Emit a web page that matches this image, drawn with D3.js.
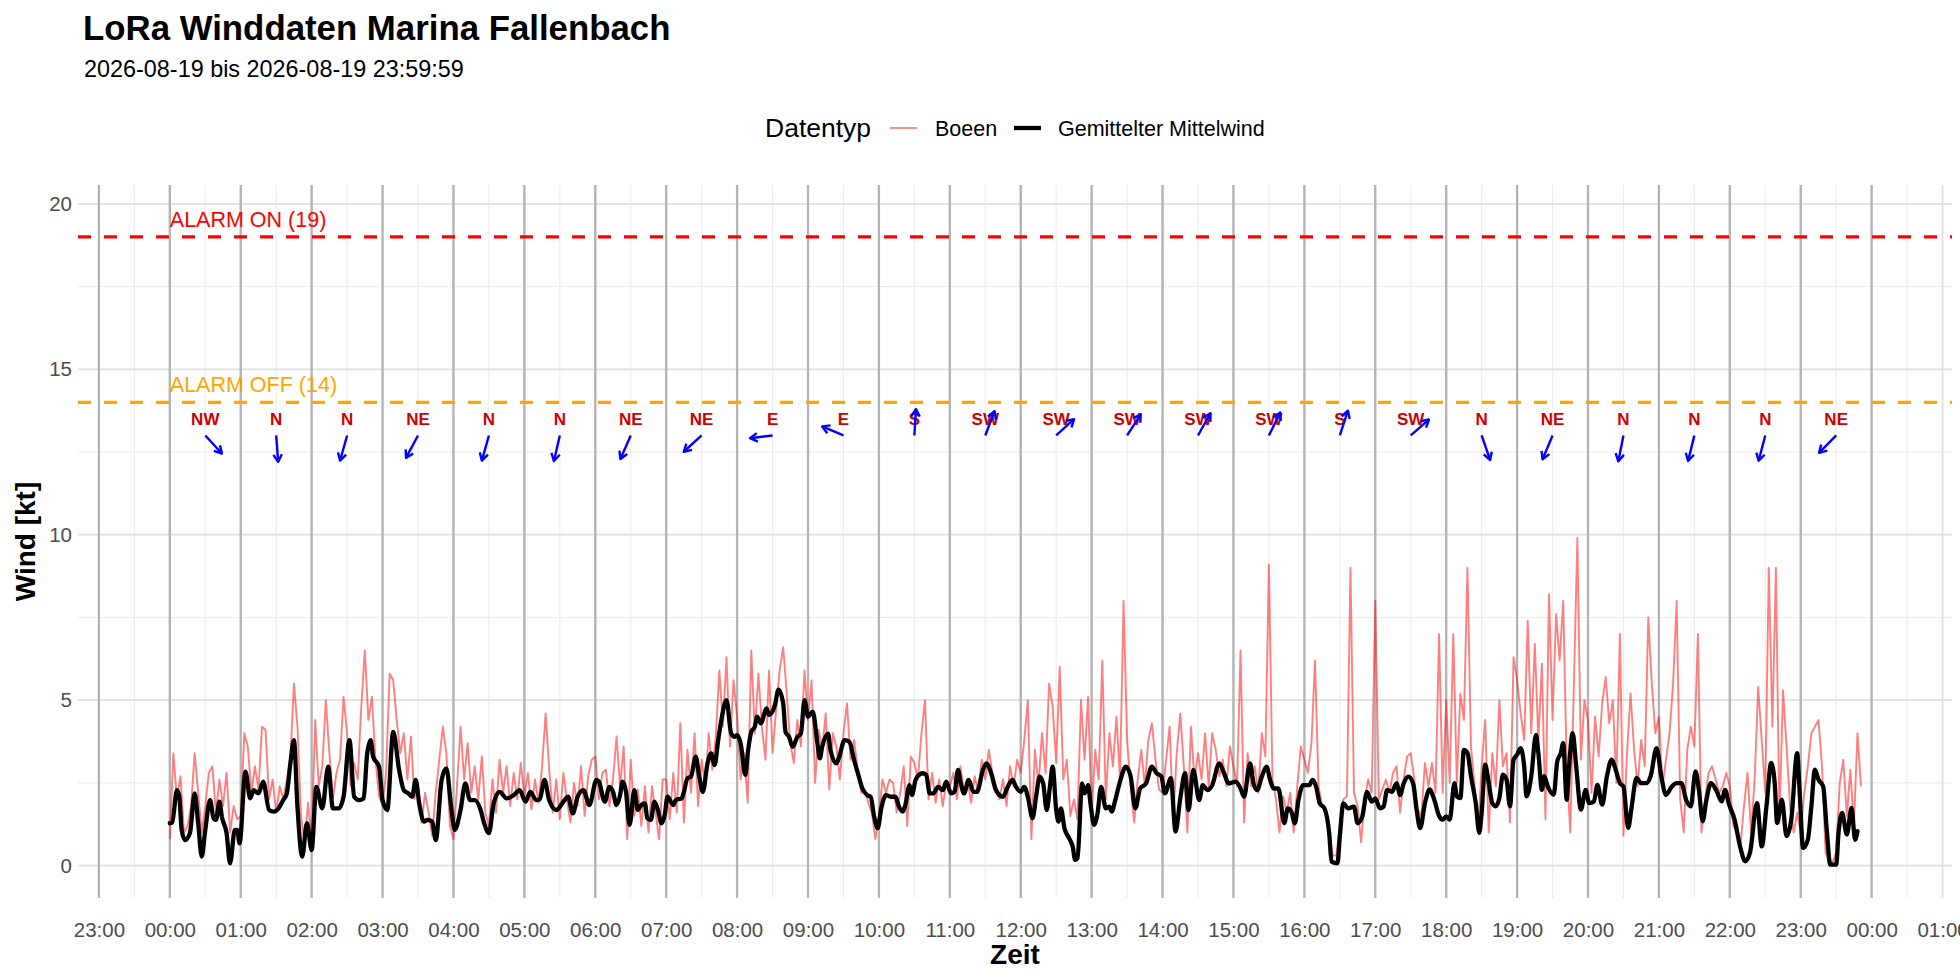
<!DOCTYPE html>
<html lang="de">
<head>
  <meta charset="UTF-8">
  <title>LoRa Winddaten Marina Fallenbach</title>
  <style>
    html, body {
      margin: 0;
      background: #fff;
    }
    svg {
      display: block;
      font-family: "Liberation Sans", Arial, sans-serif;
    }
  </style>
</head>
<body>
  <script src="https://d3js.org/d3.v7.min.js"></script>
  <script>
    // Boeen: one value every 3 minutes, one row per hour (00:00 .. 23:51)
    const gustStepMin = 3;
    const gusts = [
      0.8, 3.4, 2.0, 2.7, 1.0, 1.2, 1.8, 3.4, 2.2, 1.0, 1.8, 2.8, 3.0, 1.6, 2.6, 1.8, 2.8, 1.0, 1.8, 1.4,
      1.5, 4.0, 3.6, 2.2, 3.0, 2.3, 4.2, 4.1, 2.0, 2.6, 1.6, 2.4, 2.0, 2.6, 3.2, 5.5, 4.2, 1.5, 0.7, 1.9,
      0.7, 4.4, 2.4, 3.0, 5.0, 3.4, 2.0, 2.8, 3.2, 5.1, 4.0, 2.4, 3.1, 2.6, 4.8, 6.5, 4.4, 5.1, 3.2, 2.1,
      1.8, 2.8, 5.8, 5.6, 4.4, 3.4, 4.0, 2.6, 3.9, 2.0, 2.5, 1.3, 2.2, 1.6, 0.9, 2.2, 3.2, 4.2, 3.4, 1.2,
      0.8, 2.4, 4.2, 2.6, 3.7, 2.2, 3.0, 2.0, 3.3, 1.6, 1.2, 2.6, 1.6, 3.2, 2.2, 3.0, 1.8, 2.8, 2.0, 3.1,
      2.1, 2.8, 1.7, 2.6, 1.9, 3.0, 4.6, 2.9, 1.6, 2.6, 1.4, 2.8, 2.0, 1.3, 2.5, 1.8, 3.0, 1.5, 2.7, 3.2,
      3.3, 2.0, 2.8, 2.9, 1.8, 2.6, 3.9, 2.4, 3.6, 0.8, 3.2, 1.5, 2.3, 1.2, 2.4, 1.0, 2.4, 1.6, 0.8, 2.6,
      2.6, 1.4, 2.8, 1.6, 4.3, 1.3, 3.5, 2.2, 4.0, 1.8, 3.2, 2.4, 4.0, 2.9, 3.9, 5.9, 4.2, 6.3, 3.6, 5.6,
      4.5, 2.6, 3.4, 1.9, 6.5, 4.0, 5.8, 4.2, 3.2, 5.9, 3.4, 4.7, 5.9, 6.6, 5.2, 3.7, 3.1, 4.4, 3.6, 5.9,
      4.4, 5.6, 2.5, 4.1, 3.5, 4.6, 2.3, 4.0, 3.6, 2.6, 4.0, 4.9, 3.2, 3.8, 2.9, 2.2, 2.3, 1.9, 1.6, 0.8,
      1.5, 2.6, 2.2, 2.6, 2.5, 1.6, 2.2, 3.0, 1.2, 3.3, 3.1, 2.6, 4.0, 5.0, 2.0, 2.8, 1.9, 2.6, 1.8, 2.5,
      2.4, 2.8, 2.0, 3.0, 2.2, 2.6, 1.9, 2.7, 2.2, 3.2, 2.6, 3.5, 2.8, 2.4, 2.0, 2.6, 1.8, 3.0, 2.4, 3.2,
      2.8, 3.8, 5.0, 0.8, 3.5, 2.4, 4.0, 2.8, 5.5, 4.8, 3.1, 6.0, 2.6, 3.2, 1.5, 2.0, 1.4, 5.0, 3.2, 5.1,
      1.5, 3.5, 2.6, 6.2, 2.0, 4.0, 3.0, 4.5, 2.6, 8.0, 3.8, 2.4, 1.3, 2.6, 3.5, 2.4, 3.8, 4.3, 3.2, 2.3,
      2.2, 3.2, 4.2, 1.3, 3.4, 4.6, 3.0, 1.0, 4.2, 2.6, 3.4, 2.6, 4.0, 2.4, 4.0, 3.5, 2.7, 3.2, 2.4, 3.6,
      3.0, 2.4, 6.5, 1.3, 3.4, 2.4, 3.0, 2.2, 4.0, 3.3, 9.1, 2.6, 2.0, 1.0, 2.1, 1.6, 2.2, 1.0, 2.4, 3.6,
      3.2, 2.8, 3.7, 6.2, 2.4, 1.8, 1.6, 1.0, 0.3, 0.3, 1.2, 2.0, 2.1, 9.0, 2.2, 1.8, 0.7, 2.0, 2.6, 2.2,
      8.0, 2.0, 2.3, 2.6, 2.2, 2.8, 3.0, 1.6, 2.6, 3.3, 3.4, 2.6, 1.7, 1.5, 3.1, 2.4, 3.1, 2.2, 7.0, 2.2,
      5.0, 2.5, 7.0, 2.5, 5.2, 4.4, 9.0, 3.6, 2.4, 1.0, 3.0, 4.4, 1.0, 3.4, 2.4, 5.0, 3.0, 3.4, 1.3, 6.3,
      5.6, 4.6, 3.8, 7.4, 4.0, 6.7, 3.8, 6.1, 1.4, 8.2, 4.4, 7.6, 6.2, 8.0, 3.0, 1.0, 5.4, 9.9, 3.2, 5.0,
      4.4, 2.2, 4.5, 3.3, 4.9, 5.7, 4.3, 5.0, 2.5, 7.0, 0.9, 3.4, 5.2, 3.5, 2.4, 3.8, 3.0, 7.5, 5.5, 4.0,
      4.5, 2.4, 3.2, 4.0, 5.5, 8.0, 2.0, 1.0, 3.5, 4.2, 3.6, 7.0, 1.0, 2.0, 2.8, 3.0, 2.6, 2.2, 2.4, 2.8,
      2.4, 1.2, 1.0, 0.6, 1.8, 2.8, 1.0, 2.6, 5.4, 3.8, 2.2, 9.0, 4.2, 9.0, 1.3, 5.3, 3.6, 1.8, 1.0, 1.6,
      1.0, 2.2, 3.0, 4.0, 4.2, 4.4, 3.0, 0.4, 0.1, 0.1, 0.4, 2.5, 3.2, 1.5, 2.9, 1.2, 4.0, 2.4
    ];

    // Gemittelter Mittelwind: [minute of day, kt]
    const meanWind = [
      [0,1.28],[2,1.3],[6,2.28],[8,2.1],[10,1.08],[13,0.77],[17,0.98],[21,2.18],[24,1.28],[27,0.27],[30,1.08],
      [34,1.98],[37,1.43],[39,1.38],[42,1.93],[44,1.48],[48,0.98],[51,0.07],[55,1.08],[57,1.08],[59,0.67],
      [64,2.84],[68,2.03],[71,2.28],[75,2.18],[79,2.54],[84,1.68],[88,1.63],[92,1.73],[96,1.98],[99,2.18],
      [102,3.09],[105,3.79],[108,1.78],[112,0.27],[116,1.28],
      [120,0.47],[124,2.38],[129,1.73],[134,2.99],[138,1.73],[143,1.73],[147,2.08],[152,3.79],[156,2.08],
      [160,1.98],[164,2.03],[167,3.39],[170,3.79],[172,3.29],[177,2.99],
      [180,1.98],[184,1.68],[189,4.04],[194,2.89],[198,2.28],[202,2.18],[205,2.08],[208,2.59],[211,1.88],
      [215,1.33],[218,1.38],[222,1.33],[225,0.77],[230,2.59],[234,2.94],[238,1.78],
      [241,1.08],[246,1.68],[250,2.48],[254,1.98],[258,1.98],[263,1.68],[266,1.28],[270,0.98],[274,1.88],
      [279,2.23],[285,2.03],[291,2.13],[296,2.28],
      [301,1.93],[305,2.23],[310,1.98],[313,2.0],[317,2.59],[321,1.98],[327,1.68],[333,1.93],[337,2.08],
      [341,1.58],[345,2.08],[350,2.28],[355,1.83],
      [361,2.59],[363,2.54],[368,1.93],[372,2.38],[375,2.23],[378,1.83],[381,2.13],[383,2.54],[386,2.23],
      [389,1.23],[393,2.28],[396,1.68],[399,1.83],[402,1.88],[404,1.43],[407,1.38],[410,1.93],[413,1.68],
      [416,1.28],[419,1.58],
      [421,2.08],[426,1.83],[428,1.98],[433,2.03],[435,2.23],[438,2.64],[441,2.69],[445,3.29],[448,2.69],
      [451,2.23],[455,3.09],[458,3.39],[461,3.04],[464,3.79],[466,4.25],[471,5.0],[475,3.99],[478,3.89],
      [480,3.94],[483,3.69],[487,2.74],[489,3.39],[492,4.04],[495,4.2],[497,4.5],[500,4.3],[505,4.75],
      [507,4.55],[512,4.85],[515,5.32],[519,4.9],[521,4.04],[524,3.89],[527,3.59],[531,3.89],[534,3.99],[537,5.0],
      [540,4.5],[544,4.65],[548,3.69],[550,3.24],[552,3.59],[557,3.99],[559,3.49],[564,3.09],[566,3.24],
      [571,3.79],[575,3.74],[579,3.19],[583,2.69],[586,2.33],[590,2.13],[593,2.08],[596,1.48],[599,1.13],
      [602,1.73],[606,2.13],[610,2.08],[614,2.08],[617,1.78],[620,1.63],[622,1.78],[626,2.43],[628,2.13],
      [631,2.59],[634,2.74],[637,2.79],[640,2.74],[643,2.18],[646,2.18],[650,2.38],[654,2.28],[657,2.54],
      [661,2.18],[664,2.23],[667,2.89],[669,2.54],[672,2.18],[676,2.59],[680,2.23],[683,2.23],[688,2.89],
      [691,3.09],[695,2.79],[699,2.28],[705,2.08],[709,2.38],[713,2.59],[716,2.38],
      [720,2.23],[723,2.38],[726,2.08],[730,1.43],[733,2.08],[736,2.69],[739,2.48],[742,1.68],[745,2.48],
      [747,2.99],[750,1.68],[752,1.33],[754,1.73],[757,1.13],[761,0.82],[764,0.57],[766,0.17],[768,0.22],
      [772,2.48],[774,2.18],[777,2.43],[779,1.88],
      [782,1.23],[785,1.58],[788,2.38],[792,1.73],[795,1.78],[797,1.63],[800,1.98],[804,2.54],[809,2.99],
      [813,2.69],[817,1.73],[821,2.33],[826,2.48],[831,2.99],[835,2.79],[839,2.69],
      [842,2.18],[847,2.64],[851,1.03],[855,2.03],[859,2.79],[862,1.68],[866,2.89],[871,1.98],[874,2.43],
      [878,2.28],[882,2.43],[888,3.09],[892,2.79],[896,2.48],
      [902,2.54],[906,2.33],[909,2.08],[914,3.09],[917,2.48],[920,2.28],[924,2.69],[928,2.99],[931,2.59],
      [934,2.33],[938,2.33],[943,1.28],[946,1.73],[949,1.63],[952,1.28],[955,1.98],[959,2.43],
      [964,2.43],[967,2.59],[970,2.38],[973,1.88],[977,1.73],[981,0.98],[983,0.12],[988,0.07],[990,0.88],
      [993,1.88],[997,1.73],[1002,1.78],[1005,1.28],[1009,1.48],[1013,2.23],[1017,1.93],
      [1020,2.03],[1024,1.73],[1027,1.78],[1030,2.28],[1034,2.23],[1038,2.48],[1041,2.13],[1044,2.48],
      [1048,2.69],[1052,2.48],[1055,1.68],[1058,1.13],[1062,1.88],[1066,2.3],[1070,1.98],[1074,1.5],[1077,1.39],
      [1080,1.49],[1083,1.39],[1087,2.49],[1089,2.09],[1092,2.04],[1095,3.5],[1098,3.4],[1101,2.7],[1105,1.89],
      [1108,0.99],[1110,1.59],[1113,3.05],[1116,2.49],[1119,1.89],[1122,1.79],[1125,2.04],[1128,2.75],
      [1131,2.6],[1134,1.79],[1137,3.2],
      [1140,3.35],[1143,3.55],[1146,3.0],[1148,2.09],[1152,2.7],[1156,3.95],[1158,3.4],[1161,2.29],[1163,2.7],
      [1166,2.39],[1171,2.14],[1174,3.15],[1177,3.4],[1179,3.7],[1182,1.99],[1184,3.0],[1187,4.0],[1190,3.0],
      [1194,1.69],[1198,2.29],
      [1201,1.89],[1205,1.94],[1208,2.44],[1212,1.84],[1216,2.7],[1220,3.2],[1223,2.95],[1227,2.49],[1230,2.39],
      [1234,1.14],[1237,1.79],[1241,2.65],[1245,2.49],[1249,2.49],[1253,2.7],[1258,3.55],
      [1262,2.7],[1266,2.14],[1271,2.39],[1275,2.49],[1279,2.49],[1283,1.99],[1287,1.79],[1291,2.85],[1294,2.24],
      [1297,1.34],[1300,1.94],[1304,2.49],[1309,2.24],[1313,1.94],[1316,2.29],[1319,1.89],
      [1324,1.39],[1329,0.53],[1333,0.13],[1337,0.38],[1343,1.89],[1347,0.58],[1351,1.79],[1355,3.1],[1358,2.49],
      [1360,1.29],[1364,1.99],[1368,0.89],[1372,1.39],[1377,3.4],[1379,2.29],
      [1382,0.53],[1386,0.78],[1389,1.79],[1392,2.9],[1395,2.6],[1399,2.39],[1402,1.09],[1405,0.03],[1410,0.03],
      [1412,0.99],[1415,1.59],[1419,0.94],[1423,1.74],[1426,0.78],[1428,1.04]
    ];

    // Windrichtung pro Stunde (angezeigt bei hh:30)
    const dirHours = [0.5, 1.5, 2.5, 3.5, 4.5, 5.5, 6.5, 7.5, 8.5, 9.5, 10.5, 11.5,
                      12.5, 13.5, 14.5, 15.5, 16.5, 17.5, 18.5, 19.5, 20.5, 21.5, 22.5, 23.5];
    const dirLabels = ["NW", "N", "N", "NE", "N", "N", "NE", "NE", "E", "E", "S", "SW",
                       "SW", "SW", "SW", "SW", "S", "SW", "N", "NE", "N", "N", "N", "NE"];
    const dirDegrees = [313, 355, 18, 32, 18, 15, 27, 52, 84, 110, 184, 204,
                        232, 217, 213, 210, 201, 233, 338, 26, 13, 16, 17, 49];

    const alarmOn = 19;
    const alarmOff = 14;
    const yTicks = [0, 5, 10, 15, 20];
    const yMinor = [2.5, 7.5, 12.5, 17.5];
    const seriesNames = ["Boeen", "Gemittelter Mittelwind"];

    const W = 1960, H = 980;
    const panel = { left: 78, right: 1952, top: 185, bottom: 898 };

    const day0 = new Date(2026, 7, 19, 0, 0, 0);
    const atMin = m => new Date(day0.getTime() + m * 60000);

    const x = d3.scaleTime()
      .domain([atMin(-77.7), atMin(1508)])
      .range([panel.left, panel.right]);
    const y = d3.scaleLinear()
      .domain([-0.98, 20.57])
      .range([panel.bottom, panel.top]);

    const svg = d3.select("body")
      .append("svg")
      .attr("width", W)
      .attr("height", H);

    svg.append("rect").attr("width", W).attr("height", H).attr("fill", "#fff");

    // Grid
    const grid = svg.append("g");
    const halfHours = x.ticks(d3.timeMinute.every(30)).filter(d => d.getMinutes() === 30);
    const hours = x.ticks(d3.timeHour.every(1));

    grid.selectAll(".vminor").data(halfHours).join("line")
      .attr("x1", d => x(d)).attr("x2", d => x(d))
      .attr("y1", panel.top).attr("y2", panel.bottom)
      .attr("stroke", "#ededed").attr("stroke-width", 1.1);
    grid.selectAll(".hminor").data(yMinor).join("line")
      .attr("x1", panel.left).attr("x2", panel.right)
      .attr("y1", d => y(d)).attr("y2", d => y(d))
      .attr("stroke", "#ededed").attr("stroke-width", 1.1);
    grid.selectAll(".vmajor").data(hours).join("line")
      .attr("x1", d => x(d)).attr("x2", d => x(d))
      .attr("y1", panel.top).attr("y2", panel.bottom)
      .attr("stroke", "#e0e0e0").attr("stroke-width", 1.8);
    grid.selectAll(".hmajor").data(yTicks).join("line")
      .attr("x1", panel.left).attr("x2", panel.right)
      .attr("y1", d => y(d)).attr("y2", d => y(d))
      .attr("stroke", "#e0e0e0").attr("stroke-width", 1.8);

    // Stundenlinien
    const hourMarks = hours.filter(d => d <= atMin(1440));
    svg.append("g").selectAll("line").data(hourMarks).join("line")
      .attr("x1", d => x(d)).attr("x2", d => x(d))
      .attr("y1", panel.top).attr("y2", panel.bottom)
      .attr("stroke", "#b3b3b3").attr("stroke-width", 2.3);

    // Alarm thresholds
    const thresholds = [
      { v: alarmOn, color: "#ff0000", label: "ALARM ON (" + alarmOn + ")" },
      { v: alarmOff, color: "#ffa500", label: "ALARM OFF (" + alarmOff + ")" }
    ];
    thresholds.forEach(t => {
      svg.append("line")
        .attr("x1", panel.left).attr("x2", panel.right)
        .attr("y1", y(t.v)).attr("y2", y(t.v))
        .attr("stroke", t.color)
        .attr("stroke-width", 3.2)
        .attr("stroke-dasharray", "13,13");
      svg.append("text")
        .attr("x", x(atMin(0)))
        .attr("y", y(t.v + 0.3))
        .attr("font-size", 21.5)
        .attr("fill", t.color)
        .text(t.label);
    });

    // Boeen
    const gustLine = d3.line()
      .x((d, i) => x(atMin(i * gustStepMin)))
      .y(d => y(d));
    svg.append("path")
      .datum(gusts)
      .attr("d", gustLine)
      .attr("fill", "none")
      .attr("stroke", "#ff0000")
      .attr("stroke-opacity", 0.5)
      .attr("stroke-width", 1.9)
      .attr("stroke-linejoin", "round");

    // Mittelwind
    const meanLine = d3.line()
      .curve(d3.curveMonotoneX)
      .x(d => x(atMin(d[0])))
      .y(d => y(d[1]));
    svg.append("path")
      .datum(meanWind)
      .attr("d", meanLine)
      .attr("fill", "none")
      .attr("stroke", "#000")
      .attr("stroke-width", 4.3)
      .attr("stroke-linejoin", "round")
      .attr("stroke-linecap", "round");

    // Windrichtung: labels + arrows
    const arrowBaseKt = 13.0;
    const arrowLenH = 0.32;
    const arrowLenKt = 0.8;
    const dirG = svg.append("g");
    dirHours.forEach((h, i) => {
      const rad = dirDegrees[i] * Math.PI / 180;
      const x0 = x(atMin(h * 60));
      const y0 = y(arrowBaseKt);
      const x1 = x(atMin((h - Math.sin(rad) * arrowLenH) * 60));
      const y1 = y(arrowBaseKt - Math.cos(rad) * arrowLenKt);
      const a = Math.atan2(y1 - y0, x1 - x0);
      const L = 8.5, spread = Math.PI / 6;
      const p1 = [x1 - L * Math.cos(a - spread), y1 - L * Math.sin(a - spread)];
      const p2 = [x1 - L * Math.cos(a + spread), y1 - L * Math.sin(a + spread)];

      dirG.append("text")
        .attr("x", x0)
        .attr("y", y(13.5))
        .attr("dy", "0.36em")
        .attr("text-anchor", "middle")
        .attr("font-size", 17)
        .attr("font-weight", "bold")
        .attr("fill", "#cc0000")
        .text(dirLabels[i]);

      dirG.append("line")
        .attr("x1", x0).attr("y1", y0)
        .attr("x2", x1).attr("y2", y1)
        .attr("stroke", "#0000ff")
        .attr("stroke-width", 2.4);
      dirG.append("path")
        .attr("d", `M${p1[0]},${p1[1]}L${x1},${y1}L${p2[0]},${p2[1]}`)
        .attr("fill", "none")
        .attr("stroke", "#0000ff")
        .attr("stroke-width", 2.4)
        .attr("stroke-linejoin", "round");
    });

    // Axes
    const xAxis = svg.append("g")
      .attr("transform", `translate(0,${panel.bottom})`)
      .call(d3.axisBottom(x)
        .ticks(d3.timeHour.every(1))
        .tickFormat(d3.timeFormat("%H:%M"))
        .tickSize(0)
        .tickPadding(24));
    xAxis.select(".domain").remove();
    xAxis.selectAll("text")
      .attr("font-family", "Liberation Sans, Arial, sans-serif")
      .attr("font-size", 20.5)
      .attr("fill", "#4d4d4d");

    const yAxis = svg.append("g")
      .attr("transform", `translate(${panel.left},0)`)
      .call(d3.axisLeft(y).tickValues(yTicks).tickSize(0).tickPadding(6));
    yAxis.select(".domain").remove();
    yAxis.selectAll("text")
      .attr("font-family", "Liberation Sans, Arial, sans-serif")
      .attr("font-size", 20.5)
      .attr("fill", "#4d4d4d");

    svg.append("text")
      .attr("x", (panel.left + panel.right) / 2)
      .attr("y", 964)
      .attr("text-anchor", "middle")
      .attr("font-size", 28)
      .attr("font-weight", "bold")
      .text("Zeit");

    svg.append("text")
      .attr("transform", `translate(35,${(panel.top + panel.bottom) / 2}) rotate(-90)`)
      .attr("text-anchor", "middle")
      .attr("font-size", 28)
      .attr("font-weight", "bold")
      .text("Wind [kt]");

    // Title
    svg.append("text")
      .attr("x", 83).attr("y", 40)
      .attr("font-size", 34.8)
      .attr("font-weight", "bold")
      .text("LoRa Winddaten Marina Fallenbach");
    svg.append("text")
      .attr("x", 84).attr("y", 77)
      .attr("font-size", 23.4)
      .text("2026-08-19 bis 2026-08-19 23:59:59");

    // Legend
    const legend = svg.append("g");
    legend.append("text")
      .attr("x", 765).attr("y", 137)
      .attr("font-size", 26.5)
      .text("Datentyp");
    legend.append("line")
      .attr("x1", 890).attr("x2", 917).attr("y1", 128).attr("y2", 128)
      .attr("stroke", "#ff0000").attr("stroke-opacity", 0.5).attr("stroke-width", 1.8);
    legend.append("text")
      .attr("x", 935).attr("y", 136)
      .attr("font-size", 21.5)
      .text(seriesNames[0]);
    legend.append("line")
      .attr("x1", 1014).attr("x2", 1041).attr("y1", 128).attr("y2", 128)
      .attr("stroke", "#000").attr("stroke-width", 4.3);
    legend.append("text")
      .attr("x", 1058).attr("y", 136)
      .attr("font-size", 21.5)
      .text(seriesNames[1]);
  </script>
</body>
</html>
